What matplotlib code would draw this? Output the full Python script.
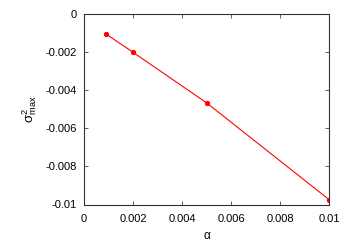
import matplotlib
matplotlib.use("Agg")
import matplotlib.pyplot as plt

plt.rcParams['font.family'] = ['Liberation Sans', 'DejaVu Sans']
plt.rcParams['mathtext.fontset'] = 'custom'
plt.rcParams['mathtext.rm'] = 'Liberation Sans'
plt.rcParams['mathtext.it'] = 'Liberation Sans'

alpha = [0.0009, 0.002, 0.005, 0.01]
sigma2_max = [-0.00105, -0.00201, -0.00466, -0.00974]

xticks = [0, 0.002, 0.004, 0.006, 0.008, 0.01]
xticklabels = ['0', '0.002', '0.004', '0.006', '0.008', '0.01']
yticks = [0, -0.002, -0.004, -0.006, -0.008, -0.01]
yticklabels = ['0', '-0.002', '-0.004', '-0.006', '-0.008', '-0.01']

fig = plt.figure(figsize=(3.46, 2.42), dpi=100)
ax = fig.add_axes([84 / 346, 1 - 204.5 / 242, 245 / 346, 190.5 / 242])

ax.plot(alpha, sigma2_max, color='red', lw=0.8, marker='o', ms=2.8, mec='red', mfc='red')

ax.set_xlim(0, 0.01)
ax.set_ylim(-0.01, 0)
ax.set_xticks(xticks)
ax.set_xticklabels(xticklabels)
ax.set_yticks(yticks)
ax.set_yticklabels(yticklabels)
ax.tick_params(direction='in', top=True, right=True, labelsize=8, length=3,
               width=0.6, color='#444444', pad=5)
ax.tick_params(axis='x', pad=7)
for s in ax.spines.values():
    s.set_linewidth(0.8)
    s.set_color('#333333')

ax.set_xlabel('α', fontsize=8.5, labelpad=4)
ax.set_ylabel(r'σ$^2_{\rm max}$', fontsize=9.5, labelpad=5)

fig.savefig('out.png', dpi=100)
